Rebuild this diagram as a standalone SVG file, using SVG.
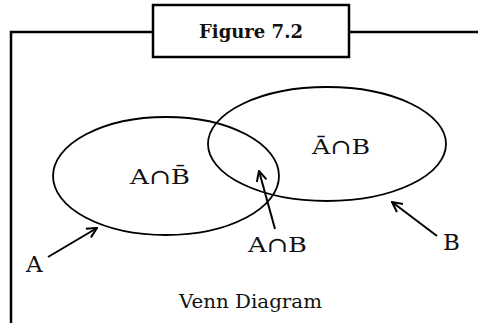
<svg xmlns="http://www.w3.org/2000/svg" width="478" height="323" viewBox="0 0 478 323">
  <defs>
    <marker id="open-arrow" viewBox="0 0 12 12" refX="11" refY="6" markerWidth="12" markerHeight="12" markerUnits="userSpaceOnUse" orient="auto">
      <path d="M1,1 L11,6 L1,11" fill="none" stroke="#000" stroke-width="2"/>
    </marker>
  </defs>
  <style>
    .frame { fill: none; stroke: #000; stroke-width: 2.5; }
    .set { fill: none; stroke: #000; stroke-width: 1.8; }
    .pointer { fill: none; stroke: #000; stroke-width: 2; marker-end: url(#open-arrow); }
    .lbl { font-family: "DejaVu Serif", "Liberation Serif", serif; font-size: 21px; fill: #111; }
    .big { font-size: 23px; }
    .title { font-family: "DejaVu Serif", "Liberation Serif", serif; font-size: 18px; font-weight: bold; fill: #111; }
    .caption { font-family: "DejaVu Serif", "Liberation Serif", serif; font-size: 19px; fill: #111; }
  </style>
  <rect width="478" height="323" fill="#fff"/>

  <!-- outer frame with title box -->
  <g id="frame">
    <path class="frame" d="M11,323 V32 H153 M349,32 H478"/>
    <rect class="frame" x="153" y="5" width="196" height="52"/>
    <text class="title" x="199" y="38" textLength="104" lengthAdjust="spacingAndGlyphs">Figure 7.2</text>
  </g>

  <!-- set A -->
  <g id="set-a">
    <ellipse class="set" cx="166" cy="176" rx="113" ry="59"/>
    <text class="lbl" x="130" y="184" textLength="60" lengthAdjust="spacingAndGlyphs">A∩B̄</text>
  </g>

  <!-- set B -->
  <g id="set-b">
    <ellipse class="set" cx="327" cy="144" rx="119" ry="57"/>
    <text class="lbl" x="312" y="154" textLength="58" lengthAdjust="spacingAndGlyphs">Ā∩B</text>
  </g>

  <!-- pointer labels -->
  <g id="label-a"><text class="lbl big" x="26" y="272">A</text></g>
  <g id="label-ab"><text class="lbl" x="248" y="252" textLength="59" lengthAdjust="spacingAndGlyphs">A∩B</text></g>
  <g id="label-b"><text class="lbl big" x="443" y="250">B</text></g>

  <!-- pointers -->
  <g id="connectors">
    <line class="pointer" x1="48" y1="257" x2="97" y2="228"/>
    <line class="pointer" x1="275" y1="229" x2="259" y2="171"/>
    <line class="pointer" x1="437" y1="236" x2="392" y2="202"/>
  </g>

  <g id="caption">
    <text class="caption" x="179" y="308" textLength="143" lengthAdjust="spacingAndGlyphs">Venn Diagram</text>
  </g>
</svg>
